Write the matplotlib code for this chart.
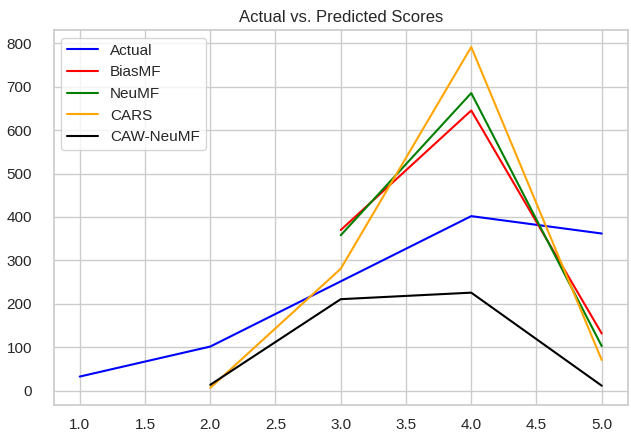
import numpy as np
import matplotlib
matplotlib.use("Agg")
import matplotlib.pyplot as plt
import seaborn as sns

x = [1.0, 2.0, 3.0, 4.0, 5.0]
actual = [33, 102, 252, 402, 362]
biasmf = [np.nan, np.nan, 370, 645, 132]
neumf = [np.nan, np.nan, 358, 685, 103]
cars = [np.nan, 7, 281, 791, 71]
caw_neumf = [np.nan, 14, 211, 226, 12]

sns.set_theme(style="whitegrid")
plt.rcParams['font.family'] = ['Liberation Sans', 'DejaVu Sans']

fig, ax = plt.subplots(figsize=(6.31, 4.34), dpi=100)
fig.subplots_adjust(left=0.085, right=0.995, bottom=0.067, top=0.931)

ax.plot(x, actual, color="blue", label="Actual")
ax.plot(x, biasmf, color="red", label="BiasMF")
ax.plot(x, neumf, color="green", label="NeuMF")
ax.plot(x, cars, color="orange", label="CARS")
ax.plot(x, caw_neumf, color="black", label="CAW-NeuMF")

ax.set_title("Actual vs. Predicted Scores")
ax.tick_params(axis="y", pad=plt.rcParams["ytick.major.pad"] + 6)
ax.legend(loc="upper left")

fig.savefig("out.png")
